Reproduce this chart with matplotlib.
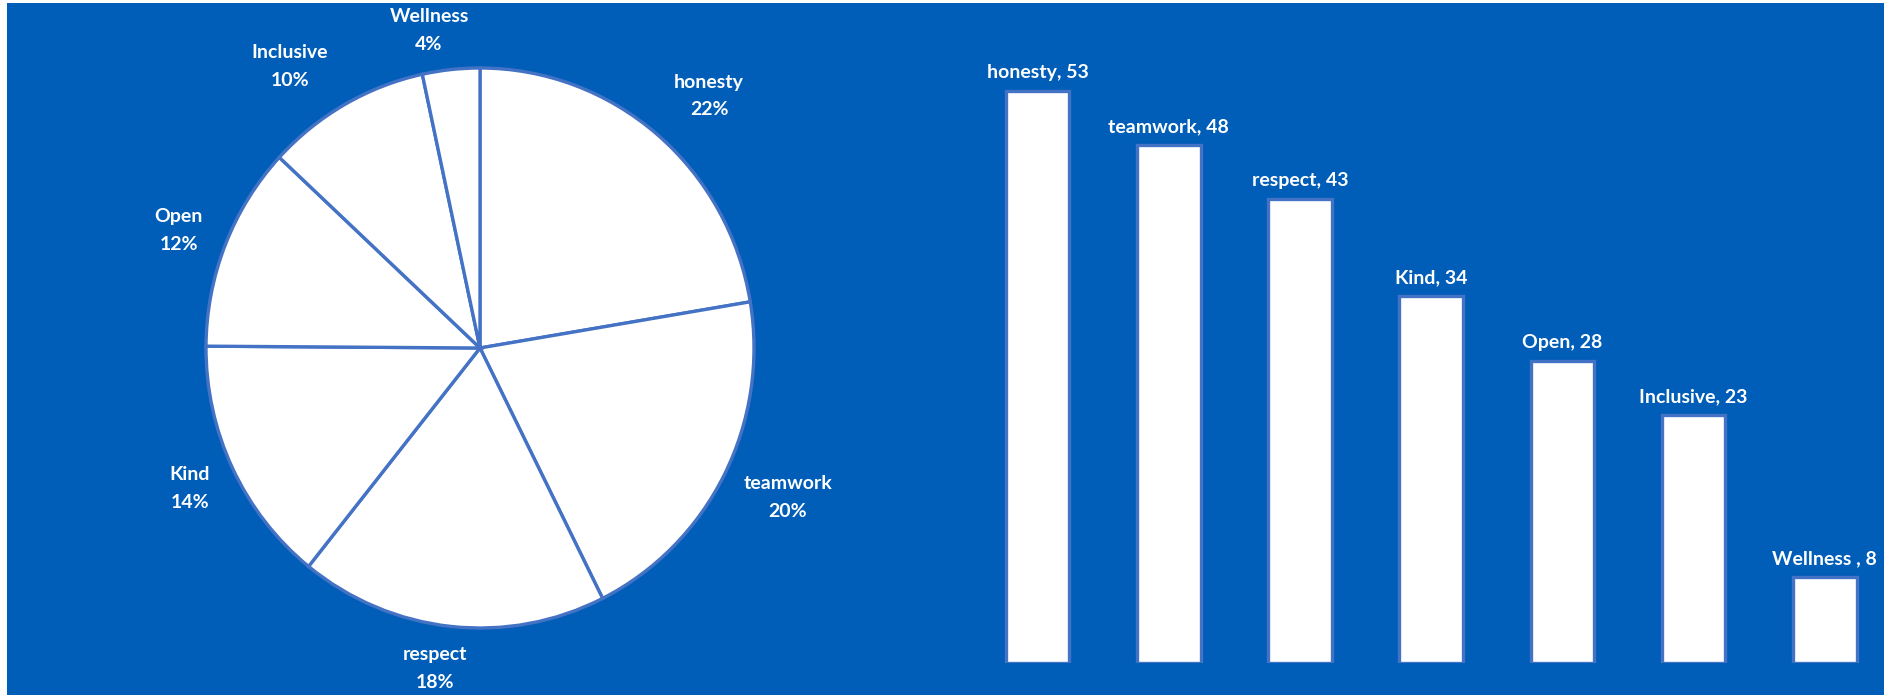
import matplotlib
matplotlib.use("Agg")
import matplotlib.pyplot as plt
from matplotlib.patches import Rectangle
import numpy as np

# ---- data ----
categories = ["honesty", "teamwork", "respect", "Kind", "Open", "Inclusive", "Wellness "]
values = [53, 48, 43, 34, 28, 23, 8]
pie_pct_labels = ["22%", "20%", "18%", "14%", "12%", "10%", "4%"]

BG = "#005EB8"
EDGE = "#4472C4"
FONT = ["Lato", "DejaVu Sans"]
FS = 14

W, H = 1884, 695
fig = plt.figure(figsize=(W / 100, H / 100), dpi=100)
fig.patch.set_facecolor("white")
fig.patches.append(Rectangle((7 / W, 0), 1 - 7 / W, 1 - 3 / H, transform=fig.transFigure,
                             facecolor=BG, edgecolor="none", zorder=-10))

# ---- pie ----
cx, cy, rx, ry = 480, 348, 274, 280
ax1 = fig.add_axes([(cx - rx) / W, (H - cy - ry) / H, 2 * rx / W, 2 * ry / H])
ax1.set_facecolor("none")
wedges, _ = ax1.pie(values, startangle=90, counterclock=False,
                    colors=["white"] * len(values),
                    wedgeprops=dict(edgecolor=EDGE, linewidth=2.4))
ax1.set_xlim(-1, 1)
ax1.set_ylim(-1, 1)
ax1.set_aspect("auto")
ax1.axis("off")

# label placement (pie-radius units) for each slice's data label
label_pos = [(0.836, 0.900), (1.124, -0.534), (-0.164, -1.145), (-1.058, -0.502),
             (-1.099, 0.420), (-0.693, 1.005), (-0.186, 1.134)]
for cat, pct, (lx, ly) in zip(categories, pie_pct_labels, label_pos):
    ax1.text(lx, ly, f"{cat.strip()}\n{pct}",
             ha="center", va="center", color="white", fontsize=FS,
             fontweight="bold", family=FONT, linespacing=1.75, clip_on=False)

# ---- bars ----
px_per_unit_x = 131.2
left = 972
ax2 = fig.add_axes([left / W, (H - 663) / H, 6.95 * px_per_unit_x / W, 648 / H])
ax2.set_facecolor("none")
x = np.arange(len(values))
bars = ax2.bar(x, values, width=0.486, color="white", edgecolor=EDGE, linewidth=2.4)
ax2.set_xlim(-0.5, 6.45)
ax2.set_ylim(0, 60)
ax2.axis("off")
for b, cat, v in zip(bars, categories, values):
    ax2.annotate(f"{cat}, {v}", (b.get_x() + b.get_width() / 2, v),
                 xytext=(0, 7), textcoords="offset points",
                 ha="center", va="bottom", color="white", fontsize=FS,
                 fontweight="bold", family=FONT, annotation_clip=False)

fig.savefig("out.png", dpi=100, facecolor=fig.get_facecolor())
